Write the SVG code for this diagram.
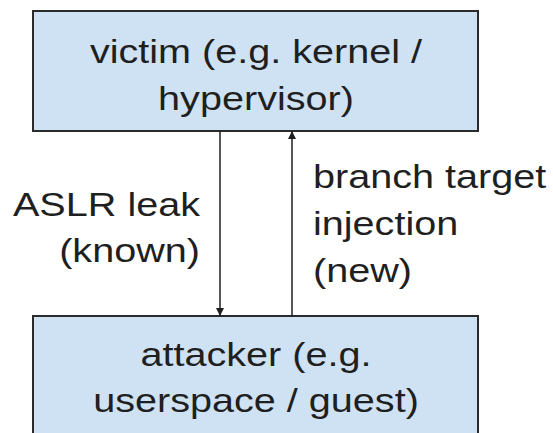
<svg xmlns="http://www.w3.org/2000/svg" width="553" height="433" viewBox="0 0 553 433">
<style>
.box{fill:#cfe2f3;stroke:#2b2b2b;stroke-width:2}
.t{font-family:"Liberation Sans",Arial,sans-serif;font-size:33px;fill:#1f1f1f}
.c{text-anchor:middle}
.e{text-anchor:end}
.conn{stroke:#1f1f1f;stroke-width:1.5;fill:none}
</style>
<defs>
<marker id="ah" viewBox="0 0 10 10" refX="10" refY="5" markerWidth="8" markerHeight="8" markerUnits="userSpaceOnUse" orient="auto">
<path d="M0,0 L10,5 L0,10 z" fill="#1f1f1f"/>
</marker>
</defs>
<rect width="553" height="433" fill="#ffffff"/>
<g id="victim">
<rect class="box" x="33" y="11" width="445" height="120"/>
<text class="t c" transform="translate(256,63) scale(1.2,1)">victim (e.g. kernel /</text>
<text class="t c" transform="translate(256,110) scale(1.2,1)">hypervisor)</text>
</g>
<g id="attacker">
<rect class="box" x="33" y="316" width="445" height="140"/>
<text class="t c" transform="translate(256,366) scale(1.2,1)">attacker (e.g.</text>
<text class="t c" transform="translate(256,412) scale(1.2,1)">userspace / guest)</text>
</g>
<g id="connectors">
<line class="conn" x1="220" y1="131" x2="220" y2="316" marker-end="url(#ah)"/>
<line class="conn" x1="292" y1="316" x2="292" y2="131" marker-end="url(#ah)"/>
<text class="t e" transform="translate(200,216) scale(1.2,1)">ASLR leak</text>
<text class="t e" transform="translate(200,262) scale(1.2,1)">(known)</text>
<text class="t" transform="translate(313,188) scale(1.2,1)">branch target</text>
<text class="t" transform="translate(313,235) scale(1.2,1)">injection</text>
<text class="t" transform="translate(313,282) scale(1.2,1)">(new)</text>
</g>
</svg>
